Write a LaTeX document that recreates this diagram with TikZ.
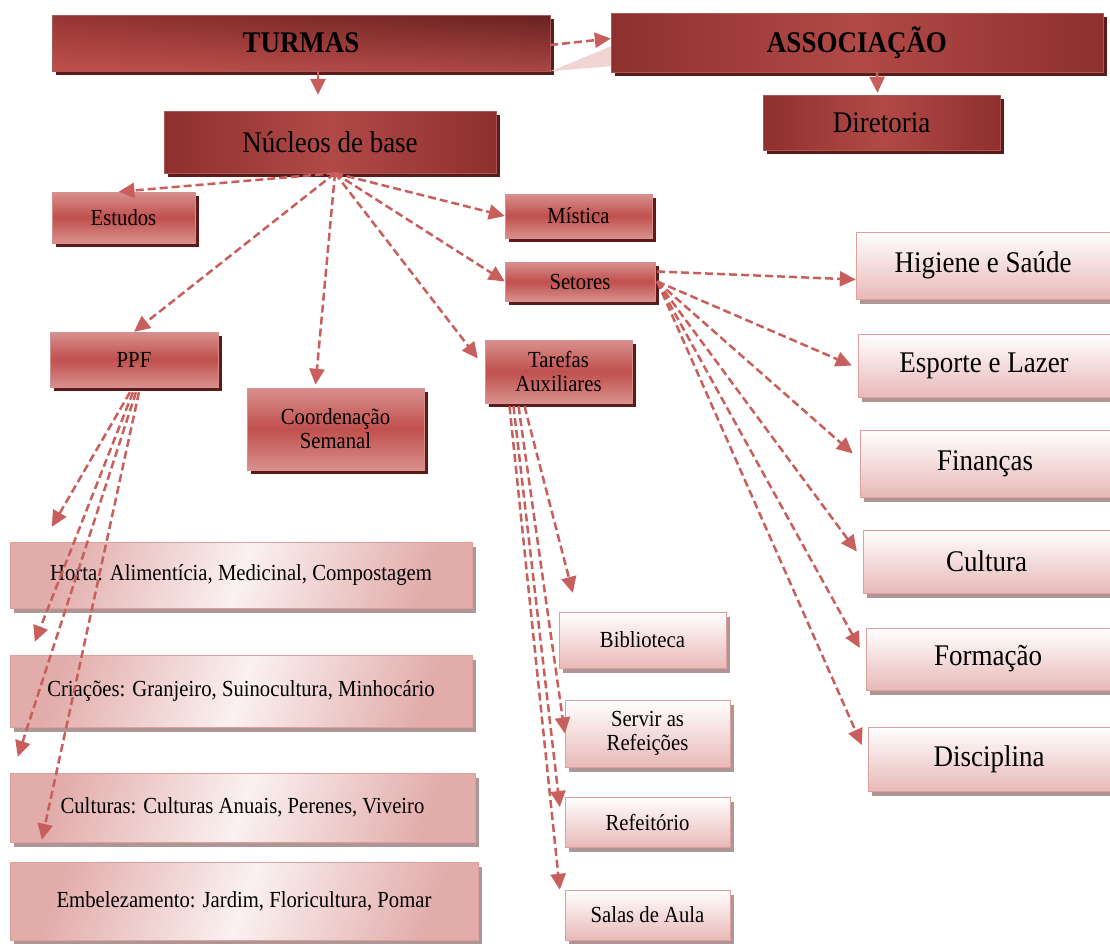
\documentclass[tikz,border=0pt]{standalone}
\usepackage{fontspec}
\setmainfont{Liberation Serif}[FakeStretch=0.9]
\usetikzlibrary{arrows.meta,shadows,shadings}

\definecolor{rmid}{HTML}{C0504D}
\definecolor{rdark}{HTML}{8E302E}
\definecolor{rdeep}{HTML}{682120}
\definecolor{rlight}{HTML}{D8908E}
\definecolor{rpale}{HTML}{E8B9B8}
\definecolor{rshadow}{HTML}{5C1A18}
\definecolor{gshadow}{HTML}{AE9696}
\definecolor{rline}{HTML}{C95F5C}

\begin{document}
\begin{tikzpicture}[x=1pt,y=-1pt,
    darkbox/.style={draw=rdark!80, inner sep=0pt, left color=rdark, right color=rdark, middle color=rmid!92!black,
      drop shadow={shadow xshift=4pt, shadow yshift=-4pt, fill=rshadow, opacity=1},
      font=\fontsize{30}{32}\selectfont},
    midbox/.style={draw=rlight, inner sep=0pt, align=center, top color=rlight, bottom color=rlight, middle color=rmid,
      drop shadow={shadow xshift=4pt, shadow yshift=-4pt, fill=rshadow, opacity=1},
      font=\fontsize{23}{24}\selectfont},
    lightbox/.style={draw=rline!60, inner sep=0pt, align=center, top color=white, bottom color=rpale,
      drop shadow={shadow xshift=4pt, shadow yshift=-5pt, fill=gshadow, opacity=1},
      font=\fontsize{30}{32}\selectfont},
    sidebox/.style={lightbox, font=\fontsize{23}{24}\selectfont},
    widebox/.style={draw=rline!60, inner sep=0pt, left color=rlight!75, right color=rlight!75, middle color=rpale!20,
      shading angle=70, drop shadow={shadow xshift=4pt, shadow yshift=-5pt, fill=gshadow, opacity=1},
      font=\fontsize{23}{24}\selectfont},
    link/.style={draw=rline, line width=2.5pt, dash pattern=on 8pt off 4pt, -{Triangle[length=16pt,width=15pt]}},
  ]
  \useasboundingbox (0,0) rectangle (1110,943);
  \fill[white] (0,0) rectangle (1110,943);

  \node[darkbox, minimum width=498pt, minimum height=56pt, shading=bilinear interpolation,
    upper left=rmid, lower left=rmid!88!black, upper right=rdark!85!rmid, lower right=rdeep]
    (turmas) at (301,43) {\textbf{TURMAS}};
  \node[darkbox, minimum width=492pt, minimum height=59pt] (assoc) at (857,42.5) {\textbf{ASSOCIAÇÃO}};
  \fill[rpale!60] (turmas.south east) -- ([yshift=-4pt]assoc.west) -- ([yshift=6pt]assoc.south west) -- cycle;
  \node[darkbox, minimum width=332pt, minimum height=62pt] (nucleos) at (330,142) {Núcleos de base};
  \node[darkbox, minimum width=237pt, minimum height=55pt] (diretoria) at (881.5,122.5) {Diretoria};

  \node[midbox, minimum width=143pt, minimum height=51pt] (estudos) at (123.5,217.5) {Estudos};
  \node[midbox, minimum width=147pt, minimum height=44pt] (mistica) at (578.5,216) {Mística};
  \node[midbox, minimum width=150pt, minimum height=39pt] (setores) at (580,281.5) {Setores};
  \node[midbox, minimum width=168pt, minimum height=55pt] (ppf) at (134,359.5) {PPF};
  \node[midbox, minimum width=177pt, minimum height=82pt] (coord) at (335.5,429) {Coordenação\\Semanal};
  \node[midbox, minimum width=147pt, minimum height=63pt] (tarefas) at (558.5,371.5) {Tarefas\\Auxiliares};

  \node[lightbox, minimum width=254pt, minimum height=67pt] (higiene) at (983,265.5) {Higiene e Saúde};
  \node[lightbox, minimum width=252pt, minimum height=63pt] (esporte) at (984,365.5) {Esporte e Lazer};
  \node[lightbox, minimum width=250pt, minimum height=67pt] (financas) at (985,463.5) {Finanças};
  \node[lightbox, minimum width=247pt, minimum height=63pt] (cultura) at (986.5,561.5) {Cultura};
  \node[lightbox, minimum width=244pt, minimum height=62pt] (formacao) at (988,659) {Formação};
  \node[lightbox, minimum width=242pt, minimum height=64pt] (disciplina) at (989,759) {Disciplina};

  \node[widebox, minimum width=462pt, minimum height=66pt] (horta) at (241,575) {Horta: Alimentícia, Medicinal, Compostagem};
  \node[widebox, minimum width=462pt, minimum height=72pt] (criacoes) at (241,691) {Criações: Granjeiro, Suinocultura, Minhocário};
  \node[widebox, minimum width=465pt, minimum height=69pt] (culturas) at (242.5,807.5) {Culturas: Culturas Anuais, Perenes, Viveiro};
  \node[widebox, minimum width=468pt, minimum height=78pt] (embelez) at (244,901) {Embelezamento: Jardim, Floricultura, Pomar};

  \node[sidebox, minimum width=167pt, minimum height=56pt] (biblio) at (642.5,640) {Biblioteca};
  \node[sidebox, minimum width=165pt, minimum height=67pt] (servir) at (647.5,733.5) {Servir as\\Refeições};
  \node[sidebox, minimum width=165pt, minimum height=50pt] (refeitorio) at (647.5,822) {Refeitório};
  \node[sidebox, minimum width=165pt, minimum height=50pt] (salas) at (647.5,915) {Salas de Aula};

  \coordinate (nb) at ([xshift=5pt]nucleos.south);

  \draw[link] ([xshift=17pt]turmas.south) -- ([xshift=-12pt,yshift=16pt]nucleos.north);
  \draw[link] ([yshift=-2pt]turmas.east) -- ([yshift=4pt]assoc.west);
  \draw[link] ([xshift=20pt]assoc.south) -- ([xshift=-4pt,yshift=2pt]diretoria.north);

  \draw[link] (nb) -- ([xshift=-5pt]estudos.north);
  \draw[link] (nb) -- (ppf.north);
  \draw[link] (nb) -- ([xshift=-20pt,yshift=3pt]coord.north);
  \draw[link] (nb) -- ([xshift=-7pt,yshift=13pt]tarefas.west);
  \draw[link] (nb) -- (setores.west);
  \draw[link] (nb) -- (mistica.west);

  \draw[link] ([xshift=-4pt,yshift=-5pt]ppf.south) -- ([xshift=42pt,yshift=15pt]horta.north west);
  \draw[link] ([xshift=-1pt,yshift=-5pt]ppf.south) -- ([xshift=25pt,yshift=13pt]criacoes.north west);
  \draw[link] ([xshift=2pt,yshift=-5pt]ppf.south) -- ([xshift=8pt,yshift=16pt]culturas.north west);
  \draw[link] ([xshift=5pt,yshift=-5pt]ppf.south) -- ([xshift=32pt,yshift=22pt]embelez.north west);

  \draw[link] ([xshift=-34pt,yshift=-3pt]tarefas.south) -- ([xshift=14pt,yshift=19pt]biblio.north west);
  \draw[link] ([xshift=-40pt,yshift=-3pt]tarefas.south) -- (servir.west);
  \draw[link] ([xshift=-45pt,yshift=-3pt]tarefas.south) -- ([xshift=-5pt,yshift=15pt]refeitorio.west);
  \draw[link] ([xshift=-49pt,yshift=-3pt]tarefas.south) -- ([xshift=-5pt]salas.north west);

  \draw[link] ([xshift=2pt,yshift=10pt]setores.east) -- ([yshift=-14pt]higiene.west);
  \draw[link] ([xshift=2pt]setores.east) -- ([xshift=-6pt]esporte.west);
  \draw[link] ([xshift=2pt]setores.east) -- ([xshift=-7pt,yshift=10pt]financas.west);
  \draw[link] ([xshift=2pt]setores.east) -- ([xshift=-6pt,yshift=10pt]cultura.west);
  \draw[link] ([xshift=2pt]setores.east) -- ([xshift=-6pt,yshift=11pt]formacao.west);
  \draw[link] ([xshift=2pt]setores.east) -- ([xshift=-6pt,yshift=14pt]disciplina.west);
\end{tikzpicture}
\end{document}
